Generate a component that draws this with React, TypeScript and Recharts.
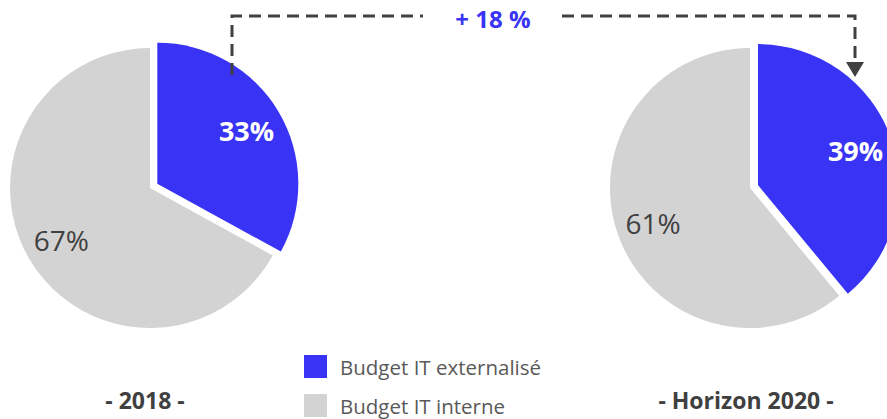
import { PieChart, Pie, Cell, Legend } from 'recharts';

const CATEGORIES = ['Budget IT externalisé', 'Budget IT interne'];
const VALUES_2018 = [33, 67];
const VALUES_2020 = [39, 61];
const PERIODS = ['- 2018 -', '- Horizon 2020 -'];
const GROWTH_LABEL = '+ 18 %';

const COLORS = ['#3833F5', '#D3D3D3'];
const FONT = '"Open Sans", sans-serif';
const RAD = Math.PI / 180;
const R = 140;
const EXPLODE = 8.5;

const toRows = (values: number[]) =>
  CATEGORIES.map((name, i) => ({ name, value: values[i] }));

// centre of the exploded slice, shifted along its mid angle
function explodedCenter(cx: number, cy: number, values: number[]) {
  const total = values.reduce((a, b) => a + b, 0);
  const mid = (values[0] / total) * 180; // degrees clockwise from 12 o'clock
  return {
    x: cx + EXPLODE * Math.sin(mid * RAD),
    y: cy - EXPLODE * Math.cos(mid * RAD),
  };
}

function makeLabel(only: number) {
  return (props: any) => {
    const { cx, cy, midAngle, outerRadius, value, index } = props;
    if (index !== only) return null;
    const r = outerRadius * 0.735;
    const x = cx + r * Math.cos(-midAngle * RAD);
    const y = cy + r * Math.sin(-midAngle * RAD);
    const blue = index === 0;
    return (
      <text
        x={x}
        y={y}
        textAnchor='middle'
        dominantBaseline='central'
        fill={blue ? '#ffffff' : '#404040'}
        fontWeight={blue ? 700 : 400}
        fontSize={blue ? 27 : 28}
        fontFamily={FONT}
      >
        {value}%
      </text>
    );
  };
}

function PiePair({ cx, cy, values }: { cx: number; cy: number; values: number[] }) {
  const rows = toRows(values);
  const c = explodedCenter(cx, cy, values);
  return [
    <Pie
      key={`g${cx}`}
      data={rows}
      dataKey='value'
      cx={cx}
      cy={cy}
      outerRadius={R}
      startAngle={90}
      endAngle={-270}
      stroke='none'
      labelLine={false}
      label={makeLabel(1)}
      isAnimationActive={false}
    >
      {rows.map((r, i) => (
        <Cell key={r.name} fill={i === 1 ? COLORS[1] : 'none'} />
      ))}
    </Pie>,
    <Pie
      key={`b${cx}`}
      data={rows}
      dataKey='value'
      cx={c.x}
      cy={c.y}
      outerRadius={R + 1}
      startAngle={90}
      endAngle={-270}
      stroke='none'
      labelLine={false}
      label={makeLabel(0)}
      isAnimationActive={false}
    >
      {rows.map((r, i) => (
        <Cell key={r.name} fill={i === 0 ? COLORS[0] : 'none'} />
      ))}
    </Pie>,
  ];
}

function LegendBox() {
  return (
    <div style={{ fontFamily: FONT }}>
      {CATEGORIES.map((name, i) => (
        <div
          key={name}
          style={{ display: 'flex', alignItems: 'center', height: 39 }}
        >
          <span
            style={{
              display: 'inline-block',
              width: 23,
              height: 23,
              backgroundColor: COLORS[i],
              marginRight: 13,
            }}
          ></span>
          <span style={{ fontSize: 20.5, color: '#595959' }}>{name}</span>
        </div>
      ))}
    </div>
  );
}

export default function App() {
  return (
    <div style={{ position: 'relative', width: 887, height: 419, background: '#fff' }}>
      <style>{`body{margin:0}`}</style>
      <PieChart width={887} height={419} margin={{ top: 0, right: 0, bottom: 0, left: 0 }}>
        {PiePair({ cx: 150, cy: 188, values: VALUES_2018 })}
        {PiePair({ cx: 750, cy: 188, values: VALUES_2020 })}
        <Legend
          content={() => <LegendBox />}
          wrapperStyle={{ position: 'absolute', left: 304, top: 347, width: 300 }}
        />
      </PieChart>

      {/* connector + titles */}
      <svg
        width={887}
        height={419}
        style={{ position: 'absolute', left: 0, top: 0, pointerEvents: 'none' }}
      >
        <path
          d='M232 75 V16 H423 M562 16 H855 V62'
          fill='none'
          stroke='#404040'
          strokeWidth={3}
          strokeDasharray='12 7'
        />
        <polygon points='846,62 864,62 855,77' fill='#404040' />
        <text
          x={493}
          y={28}
          textAnchor='middle'
          fontFamily={FONT}
          fontWeight={700}
          fontSize={24}
          fill={COLORS[0]}
        >
          {GROWTH_LABEL}
        </text>
        <text
          x={145}
          y={409}
          textAnchor='middle'
          fontFamily={FONT}
          fontWeight={700}
          fontSize={23}
          fill='#404040'
        >
          {PERIODS[0]}
        </text>
        <text
          x={746}
          y={409}
          textAnchor='middle'
          fontFamily={FONT}
          fontWeight={700}
          fontSize={23}
          fill='#404040'
        >
          {PERIODS[1]}
        </text>
      </svg>
    </div>
  );
}
